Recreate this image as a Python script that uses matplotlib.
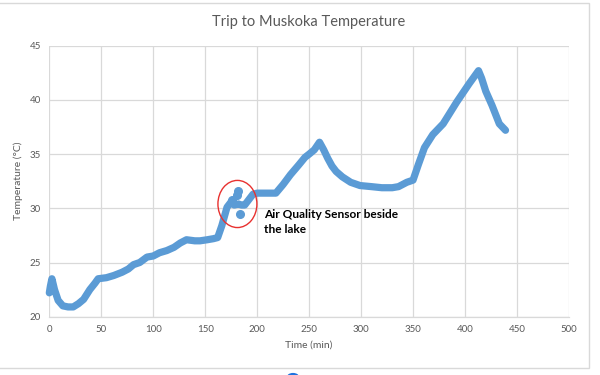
import matplotlib
matplotlib.use("Agg")
import matplotlib.pyplot as plt
from matplotlib.patches import Ellipse, Rectangle, Circle

plt.rcParams['font.family'] = ['Lato', 'DejaVu Sans']

# Sensor readings (minutes, degrees C)
time_min = [0, 1, 2.5, 5, 8.5, 13, 18, 23, 28, 33, 39, 44, 47, 55, 62, 70, 76, 81, 87, 94,
            100, 106, 113, 120, 126, 132, 140, 145, 152, 158, 162, 166, 171, 175, 178, 182,
            185, 188, 192, 196, 200, 210, 218, 225, 232, 240, 246, 250, 255, 260, 264, 268,
            272, 276, 282, 290, 299, 310, 320, 330, 336, 340, 344, 350, 355, 361, 369, 379,
            392, 404, 413, 416, 420, 426, 433, 439]
temp_c = [22.2, 22.8, 23.5, 22.5, 21.5, 21.0, 20.9, 20.9, 21.2, 21.6, 22.5, 23.1, 23.5, 23.6,
          23.8, 24.1, 24.4, 24.8, 25.0, 25.5, 25.6, 25.9, 26.1, 26.4, 26.8, 27.1, 27.0, 27.0,
          27.1, 27.2, 27.3, 28.4, 30.1, 30.6, 30.3, 30.4, 30.3, 30.3, 30.8, 31.3, 31.4, 31.4,
          31.4, 32.2, 33.1, 34.0, 34.7, 35.0, 35.4, 36.1, 35.4, 34.6, 33.9, 33.4, 32.9, 32.4,
          32.1, 32.0, 31.9, 31.9, 32.0, 32.2, 32.4, 32.6, 34.0, 35.6, 36.8, 37.8, 39.8, 41.5,
          42.7, 42.0, 40.8, 39.5, 37.8, 37.2]

# stray readings while the sensor sat beside the lake
stray_time = [176, 180.8, 181.7, 183.4]
stray_temp = [30.8, 31.2, 31.6, 29.5]

blue = '#5B9BD5'
grey_text = '#595959'
grid_col = '#D9D9D9'

fig = plt.figure(figsize=(6, 3.75), dpi=100)
ax = fig.add_axes([0.0822, 0.1555, 0.8660, 0.7225])

ax.plot(time_min, temp_c, '-', color=blue, lw=5.2,
        solid_capstyle='round', solid_joinstyle='round', zorder=3, clip_on=False)
ax.plot(stray_time, stray_temp, 'o', color=blue, ms=5.5, zorder=3)

ax.set_xlim(0, 500)
ax.set_ylim(20, 45)
ax.set_xticks(range(0, 501, 50))
ax.set_yticks(range(20, 46, 5))
ax.grid(True, color=grid_col, lw=0.9)
ax.set_axisbelow(True)
for side in ['top', 'right', 'left']:
    ax.spines[side].set_visible(False)
ax.spines['bottom'].set_color(grid_col)
ax.spines['bottom'].set_linewidth(0.9)
ax.tick_params(length=0, labelsize=7, labelcolor=grey_text, pad=6)

ax.set_title('Trip to Muskoka Temperature', fontsize=10.5, color=grey_text, pad=14)
ax.set_xlabel('Time (min)', fontsize=7.5, color=grey_text, labelpad=5)
ax.set_ylabel('Temperature (°C)', fontsize=7.5, color=grey_text, labelpad=5)

# red circle around the lakeside readings and its note
ax.add_patch(Ellipse((181, 30.4), 37.5, 4.35, fill=False, edgecolor='#E8312F', lw=1, zorder=4))
ax.text(207, 28.7, 'Air Quality Sensor beside\nthe lake', fontsize=8.6, fontweight='bold',
        color='black', va='center', ha='left', linespacing=1.45)

# chart outline and selection handle
fig.patches.append(Rectangle((-0.01, 0.019), 0.992, 0.973, transform=fig.transFigure,
                             fill=False, edgecolor='#D9D9D9', lw=1))
fig.patches.append(Circle((293 / 600, -2 / 375), 0.009, transform=fig.transFigure,
                          color='#1E73E0'))

fig.savefig('out.png', dpi=100)
